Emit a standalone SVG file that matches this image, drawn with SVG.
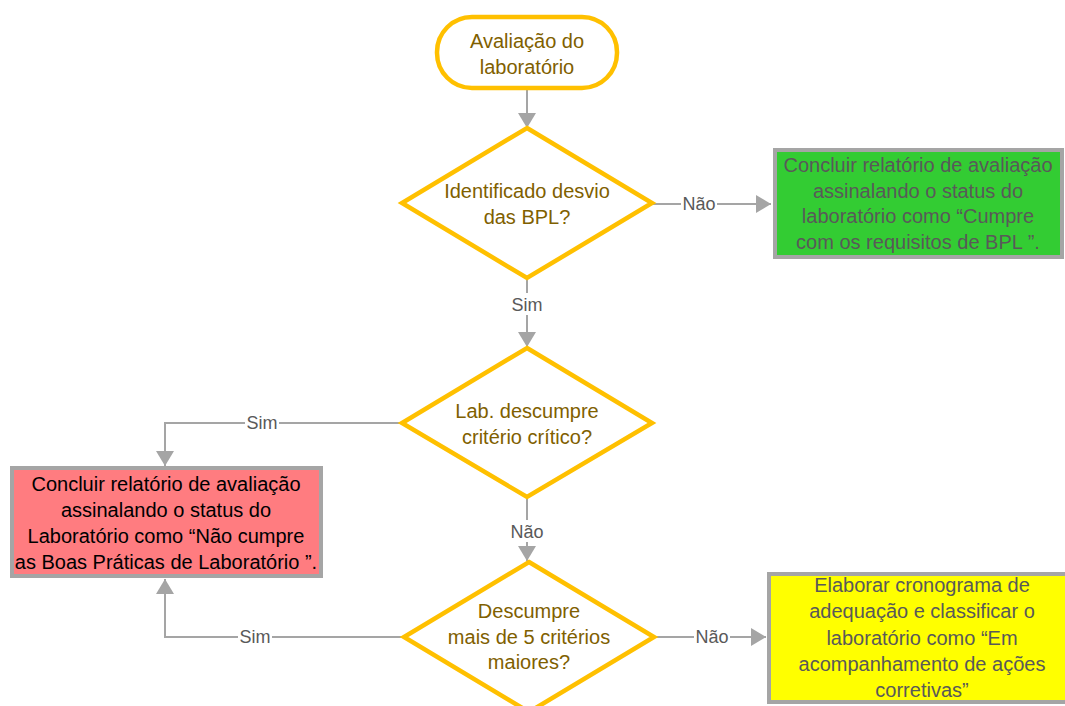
<svg xmlns="http://www.w3.org/2000/svg" width="1065" height="706" viewBox="0 0 1065 706">
<style>
  .t { font-family: "Liberation Sans", Arial, sans-serif; font-size: 20px; text-anchor: middle; }
  .gold { fill: #7F6000; }
  .gray { fill: #595959; }
  .blk { fill: #000000; }
  .lbl { font-family: "Liberation Sans", Arial, sans-serif; font-size: 18px; text-anchor: middle; fill: #595959; }
  .dia { fill: #FFFFFF; stroke: #FFC000; stroke-width: 4.5; stroke-linejoin: miter; }
  .box { stroke: #A5A5A5; stroke-width: 4; }
  .con { fill: none; stroke: #A5A5A5; stroke-width: 2; marker-end: url(#arr); }
  .lbg { fill: #FFFFFF; }
</style>
<defs>
  <marker id="arr" markerUnits="userSpaceOnUse" markerWidth="16" markerHeight="18" refX="15" refY="9" orient="auto">
    <path d="M0,0 L15,9 L0,18 z" fill="#A5A5A5"/>
  </marker>
</defs>
<rect width="1065" height="706" fill="#FFFFFF"/>

<g id="connectors">
  <path class="con" d="M527,89 V128"/>
  <path class="con" d="M652,204 H771"/>
  <path class="con" d="M527,278 V347"/>
  <path class="con" d="M402,423 H165 V466"/>
  <path class="con" d="M527,497 V561"/>
  <path class="con" d="M404,637 H165 V579"/>
  <path class="con" d="M654,637 H766"/>
  <g id="labels">
    <rect class="lbg" x="681" y="194" width="36" height="20"/>
    <text class="lbl" x="699" y="210">Não</text>
    <rect class="lbg" x="510" y="293" width="34" height="22"/>
    <text class="lbl" x="527" y="311">Sim</text>
    <rect class="lbg" x="245" y="413" width="34" height="20"/>
    <text class="lbl" x="262" y="429">Sim</text>
    <rect class="lbg" x="509" y="520" width="36" height="22"/>
    <text class="lbl" x="527" y="538">Não</text>
    <rect class="lbg" x="238" y="627" width="34" height="20"/>
    <text class="lbl" x="255" y="643">Sim</text>
    <rect class="lbg" x="694" y="627" width="36" height="20"/>
    <text class="lbl" x="712" y="643">Não</text>
  </g>
</g>

<g id="start">
  <rect x="437" y="17" width="180" height="71" rx="35" ry="35" fill="#FFFFFF" stroke="#FFC000" stroke-width="4.5"/>
  <text class="t gold" x="527" y="48">Avaliação do</text>
  <text class="t gold" x="527" y="74">laboratório</text>
</g>

<g id="decision1">
  <polygon class="dia" points="527,128 652,203 527,278 402,203"/>
  <text class="t gold" x="527" y="198">Identificado desvio</text>
  <text class="t gold" x="527" y="224">das BPL?</text>
</g>

<g id="green">
  <rect class="box" x="775" y="150" width="287" height="107" fill="#33CC33"/>
  <text class="t gray" x="918" y="172">Concluir relatório de avaliação</text>
  <text class="t gray" x="918" y="198">assinalando o status do</text>
  <text class="t gray" x="918" y="223">laboratório como “Cumpre</text>
  <text class="t gray" x="918" y="249">com os requisitos de BPL ”.</text>
</g>

<g id="decision2">
  <polygon class="dia" points="527,348 652,423 527,497 402,423"/>
  <text class="t gold" x="527" y="418">Lab. descumpre</text>
  <text class="t gold" x="527" y="444">critério crítico?</text>
</g>

<g id="red">
  <rect class="box" x="12" y="468" width="309" height="108" fill="#FF7C80"/>
  <text class="t blk" x="166" y="491">Concluir relatório de avaliação</text>
  <text class="t blk" x="166" y="517">assinalando o status do</text>
  <text class="t blk" x="166" y="543">Laboratório como “Não cumpre</text>
  <text class="t blk" x="166" y="569">as Boas Práticas de Laboratório ”.</text>
</g>

<g id="decision3">
  <polygon class="dia" points="529,562 654,637 529,712 404,637"/>
  <text class="t gold" x="529" y="618">Descumpre</text>
  <text class="t gold" x="529" y="644">mais de 5 critérios</text>
  <text class="t gold" x="529" y="669">maiores?</text>
</g>

<g id="yellow">
  <rect class="box" x="769" y="574" width="310" height="128" fill="#FFFF00"/>
  <text class="t gray" x="922" y="592">Elaborar cronograma de</text>
  <text class="t gray" x="922" y="618">adequação e classificar o</text>
  <text class="t gray" x="922" y="645">laboratório como “Em</text>
  <text class="t gray" x="922" y="671">acompanhamento de ações</text>
  <text class="t gray" x="922" y="697">corretivas”</text>
</g>
</svg>
